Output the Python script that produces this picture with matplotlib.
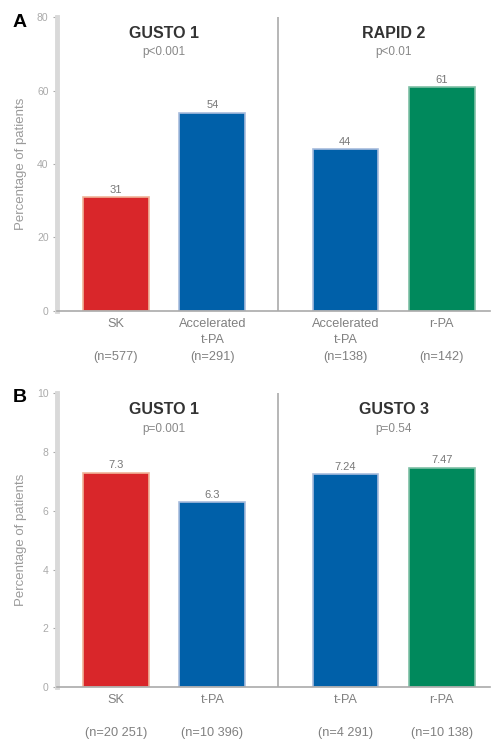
import matplotlib
matplotlib.use("Agg")
import matplotlib.pyplot as plt
import numpy as np

# panel A: TIMI 3 flow at 90 min
a_trials = ["GUSTO 1", "RAPID 2"]
a_pvals = ["p<0.001", "p<0.01"]
a_labels = ["SK\n\n(n=577)", "Accelerated\nt-PA\n(n=291)",
            "Accelerated\nt-PA\n(n=138)", "r-PA\n\n(n=142)"]
a_values = [31, 54, 44, 61]
a_text = ["31", "54", "44", "61"]

# panel B: 30-day mortality
b_trials = ["GUSTO 1", "GUSTO 3"]
b_pvals = ["p=0.001", "p=0.54"]
b_labels = ["SK\n\n(n=20 251)", "t-PA\n\n(n=10 396)",
            "t-PA\n\n(n=4 291)", "r-PA\n\n(n=10 138)"]
b_values = [7.3, 6.3, 7.24, 7.47]
b_text = ["7.3", "6.3", "7.24", "7.47"]

bar_colors = ["#D9262A", "#0060A9", "#0060A9", "#00895C"]
edge_colors = ["#F0B49A", "#A8BCDD", "#A8BCDD", "#7FC0A6"]
xpos = [0, 1, 2.38, 3.38]

plt.rcParams['font.family'] = ['Liberation Sans', 'DejaVu Sans']

fig = plt.figure(figsize=(4.91, 7.42), dpi=100)
axA = fig.add_axes([0.116, 0.581, 0.882, 0.396])
axB = fig.add_axes([0.116, 0.074, 0.882, 0.396])


def draw_panel(ax, values, texts, labels, trials, pvals, ymax, ystep, letter, ly):
    ax.bar(xpos, values, width=0.68, color=bar_colors, edgecolor=edge_colors,
           linewidth=1.2, zorder=2)
    for x, v, t in zip(xpos, values, texts):
        ax.text(x, v + ymax * 0.008, t, ha="center", va="bottom",
                fontsize=8, color="#777777")
    ax.set_xlim(-0.61, 3.88)
    ax.set_ylim(0, ymax)
    ax.set_yticks(np.arange(0, ymax + ystep / 2, ystep))
    ax.set_xticks(xpos)
    ax.set_xticklabels(labels, fontsize=9.2, color="#808080", linespacing=1.5,
                       va="top")
    ax.tick_params(axis="x", length=0, pad=5)
    ax.tick_params(axis="y", length=3, width=0.8, colors="#aaaaaa",
                   labelsize=7.5, labelcolor="#aaaaaa", pad=3)
    for s in ["top", "right"]:
        ax.spines[s].set_visible(False)
    ax.spines["left"].set_color("#d9d9d9")
    ax.spines["left"].set_linewidth(3.5)
    ax.spines["bottom"].set_color("#aaaaaa")
    ax.spines["bottom"].set_linewidth(1.2)
    ax.axvline(1.68, color="#aaaaaa", linewidth=1.2, zorder=1)
    ax.set_ylabel("Percentage of patients", fontsize=9.5, color="#9a9a9a",
                  labelpad=7)
    centers = [(xpos[0] + xpos[1]) / 2, (xpos[2] + xpos[3]) / 2]
    for c, t, p in zip(centers, trials, pvals):
        ax.text(c, ymax * 0.945, t, ha="center", va="center", fontsize=11.5,
                fontweight="bold", color="#333333")
        ax.text(c, ymax * 0.88, p, ha="center", va="center", fontsize=8.5,
                color="#888888")
    ax.text(-0.102, ly, letter, transform=ax.transAxes, fontsize=14,
            fontweight="bold", ha="left", va="center")


draw_panel(axA, a_values, a_text, a_labels, a_trials, a_pvals, 80, 20, "A", 0.98)
draw_panel(axB, b_values, b_text, b_labels, b_trials, b_pvals, 10, 2, "B", 0.986)

fig.savefig("out.png", dpi=100)
